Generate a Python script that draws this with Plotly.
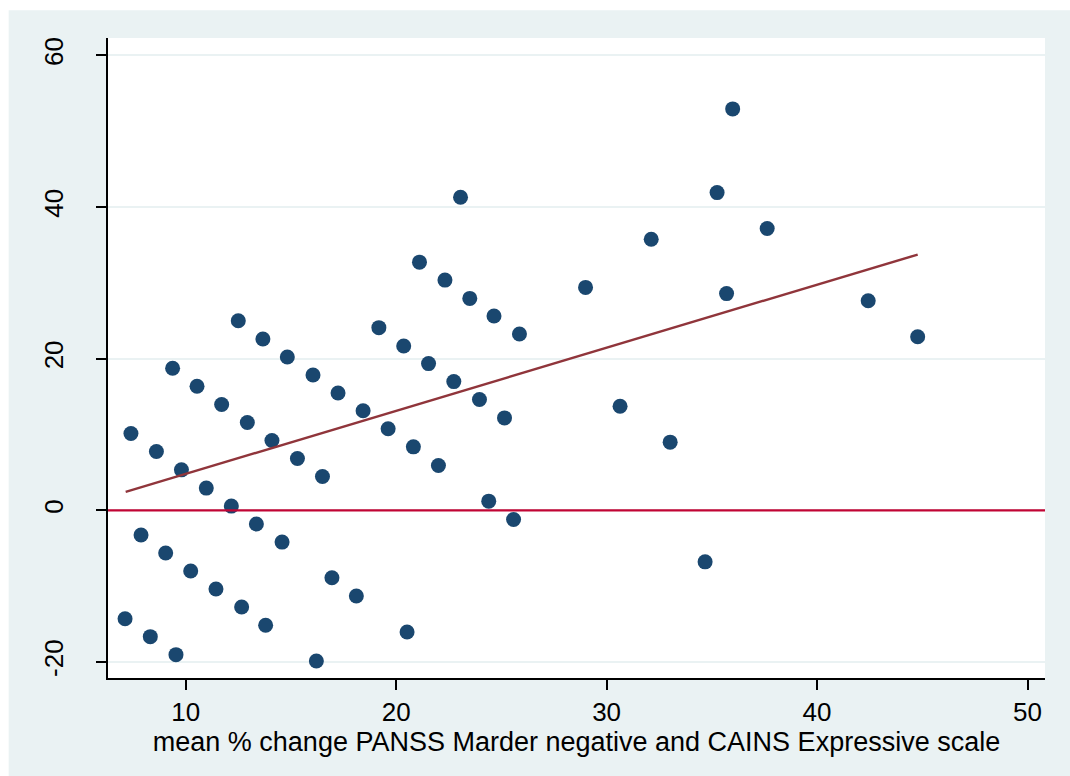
import plotly.graph_objects as go

# mean % change, PANSS Marder negative and CAINS Expressive scale
pct_change = [
    7.12, 8.32, 9.54, 7.40, 7.88, 8.61, 9.05, 9.38, 9.80, 10.24,
    10.54, 10.98, 11.44, 11.71, 12.17, 12.50, 12.66, 12.93, 13.36, 13.67,
    13.80, 14.10, 14.58, 14.83, 15.31, 16.05, 16.21, 16.50, 16.95, 17.24,
    18.11, 18.43, 19.18, 19.62, 20.36, 20.52, 20.82, 21.11, 21.54, 22.01,
    22.32, 22.74, 23.06, 23.50, 23.96, 24.40, 24.65, 25.15, 25.58, 25.86,
    29.00, 30.64, 32.12, 33.02, 34.68, 35.25, 35.70, 35.99, 37.63, 42.43,
    44.78,
]
diff = [
    -14.28, -16.65, -19.02, 10.14, -3.25, 7.77, -5.62, 18.74, 5.35, -7.99,
    16.37, 2.94, -10.37, 13.96, 0.57, 25.02, -12.74, 11.59, -1.80, 22.60,
    -15.15, 9.22, -4.18, 20.23, 6.85, 17.86, -19.85, 4.48, -8.88, 15.49,
    -11.29, 13.14, 24.10, 10.77, 21.68, -16.03, 8.38, 32.74, 19.36, 5.93,
    30.37, 16.99, 41.30, 27.96, 14.62, 1.22, 25.63, 12.20, -1.19, 23.26,
    29.41, 13.74, 35.76, 9.00, -6.78, 41.91, 28.59, 52.95, 37.17, 27.65,
    22.90,
]
# fitted line endpoints
fit_x = [7.15, 44.78]
fit_y = [2.45, 33.74]

x_ticks = [10, 20, 30, 40, 50]
y_ticks = [-20, 0, 20, 40, 60]
y_tick_text = ["-20", "0", "20", "40", "60"]
x_title = "mean % change PANSS Marder negative and CAINS Expressive scale"

NAVY = "#1a476f"
MAROON = "#90353b"
CRANBERRY = "#c10534"
BG = "#eaf2f3"
FONT = "Liberation Sans, Arial, sans-serif"

fig = go.Figure()
fig.add_trace(go.Scatter(
    x=pct_change, y=diff, mode="markers",
    marker=dict(size=15, color=NAVY, line=dict(width=0)),
    showlegend=False, hoverinfo="x+y",
))
fig.add_trace(go.Scatter(
    x=fit_x, y=fit_y, mode="lines",
    line=dict(color=MAROON, width=2.4),
    showlegend=False,
))

fig.add_hline(y=0, line=dict(color=CRANBERRY, width=2.4), layer="above")

# outer panel and white plot region
fig.add_shape(type="rect", xref="paper", yref="paper",
              x0=(9 - 108.3) / 936.7, x1=(1075 - 108.3) / 936.7,
              y0=-(780 - 678.3) / 640.6, y1=(678.3 - 10) / 640.6,
              fillcolor=BG, line=dict(width=0), layer="below")
fig.add_shape(type="rect", xref="paper", yref="paper",
              x0=0, x1=1, y0=0, y1=1,
              fillcolor="white", line=dict(width=0), layer="below")

fig.update_layout(
    width=1070, height=776,
    margin=dict(l=108, r=25, t=38, b=98),
    paper_bgcolor="white",
    plot_bgcolor="white",
    font=dict(family=FONT, color="black", size=26),
    showlegend=False,
)
fig.update_xaxes(
    range=[6.31, 50.83], tickvals=x_ticks,
    showgrid=False, zeroline=False,
    showline=True, linecolor="black", linewidth=1.5,
    ticks="outside", ticklen=10, tickwidth=1.5, tickcolor="black",
    tickfont=dict(size=26, family=FONT),
    title=dict(text=x_title, font=dict(size=27, family=FONT), standoff=0),
)
fig.update_yaxes(
    range=[-22.1, 62.3], tickvals=y_ticks, ticktext=y_tick_text,
    showgrid=True, gridcolor=BG, gridwidth=2,
    zeroline=False,
    showline=True, linecolor="black", linewidth=1.5,
    ticks="outside", ticklen=10, tickwidth=1.5, tickcolor="black",
    tickangle=-90, ticklabelstandoff=23,
    tickfont=dict(size=26, family=FONT),
)

fig.write_html("out.html")
